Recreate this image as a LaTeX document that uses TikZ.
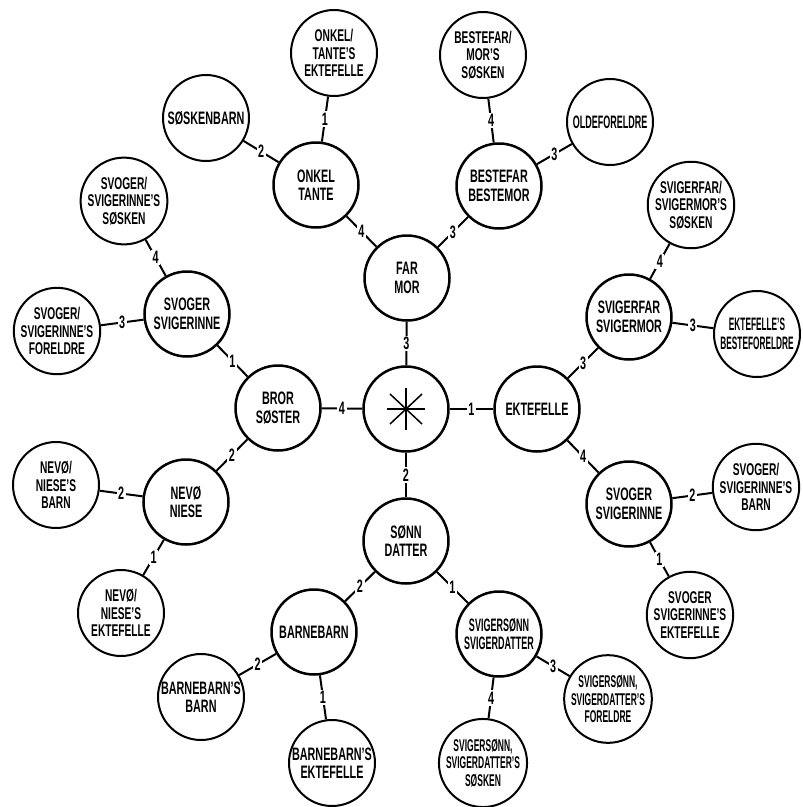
\documentclass[tikz,border=0pt]{standalone}
\usepackage{fontspec}
\setmainfont{Liberation Sans}
\newfontfamily\fa{Liberation Sans}[FakeStretch=0.6]
\newfontfamily\fb{Liberation Sans}[FakeStretch=0.5]
\newfontfamily\fc{Liberation Sans}[FakeStretch=0.46]
\tikzset{
  inner/.style={circle, draw, line width=2.5pt, minimum size=85pt, inner sep=0pt, align=center},
  outer/.style={circle, draw, line width=2pt, minimum size=86pt, inner sep=0pt, align=center},
  two/.style={font=\fa\bfseries\fontsize{18}{18.5}\selectfont},
  three/.style={font=\fa\bfseries\fontsize{17}{17.5}\selectfont},
  narrowtwo/.style={font=\fb\bfseries\fontsize{18}{18.5}\selectfont},
  narrowthree/.style={font=\fb\bfseries\fontsize{17}{17.5}\selectfont},
  narrowest/.style={font=\fc\bfseries\fontsize{18}{18.5}\selectfont},
  conn/.style={line width=2pt},
  lbl/.style={fill=white, inner sep=1.5pt, font=\fa\bfseries\fontsize{18}{18}\selectfont},
  star/.style={line width=1.5pt},
}
\begin{document}
\begin{tikzpicture}[x=1pt,y=-1pt]
\useasboundingbox (0,0) rectangle (803,807);
% centre and primary
\node[inner] (c) at (406,409) {};
\node[inner,two] (farmor) at (407,278) {FAR\\MOR};
\node[inner,two] (bror) at (278,408) {BROR\\SØSTER};
\node[inner,two] (ekt) at (537,409) {EKTEFELLE};
\node[inner,two] (sonn) at (406,541) {SØNN\\DATTER};
% secondary
\node[inner,two] (onkel) at (316,185) {ONKEL\\TANTE};
\node[inner,two] (bestefar) at (499,186) {BESTEFAR\\BESTEMOR};
\node[inner,two] (svigerfar) at (629,317) {SVIGERFAR\\SVIGERMOR};
\node[inner,two] (svogerR) at (629,504) {SVOGER\\SVIGERINNE};
\node[inner,two] (svogerL) at (187,314) {SVOGER\\SVIGERINNE};
\node[inner,two] (nevo) at (186,502) {NEVØ\\NIESE};
\node[inner,two] (barnebarn) at (314,632) {BARNEBARN};
\node[inner,narrowtwo] (svigersonn) at (499,634) {SVIGERSØNN\\SVIGERDATTER};
% tertiary
\node[outer,three] (onkelekt) at (334,53) {ONKEL/\\TANTE’S\\EKTEFELLE};
\node[outer,two] (soskenbarn) at (206,118) {SØSKENBARN};
\node[outer,three] (bfsosken) at (483,55) {BESTEFAR/\\MOR’S\\SØSKEN};
\node[outer,narrowtwo] (olde) at (610,122) {OLDEFORELDRE};
\node[outer,three] (sfsosken) at (691,205) {SVIGERFAR/\\SVIGERMOR’S\\SØSKEN};
\node[outer,narrowest] (ektbf) at (757,334) {EKTEFELLE’S\\BESTEFORELDRE};
\node[outer,three] (svRbarn) at (756,487) {SVOGER/\\SVIGERINNE’S\\BARN};
\node[outer,three] (svRekt) at (690,615) {SVOGER\\SVIGERINNE’S\\EKTEFELLE};
\node[outer,narrowthree] (ssforeldre) at (608,699) {SVIGERSØNN,\\SVIGERDATTER’S\\FORELDRE};
\node[outer,narrowthree] (sssosken) at (483,763) {SVIGERSØNN,\\SVIGERDATTER’S\\SØSKEN};
\node[outer,two] (bbekt) at (332,763) {BARNEBARN’S\\EKTEFELLE};
\node[outer,two] (bbbarn) at (201,697) {BARNEBARN’S\\BARN};
\node[outer,three] (nevoekt) at (121,613) {NEVØ/\\NIESE’S\\EKTEFELLE};
\node[outer,three] (nevobarn) at (56,485) {NEVØ/\\NIESE’S\\BARN};
\node[outer,three] (svLforeldre) at (57,331) {SVOGER/\\SVIGERINNE’S\\FORELDRE};
\node[outer,three] (svLsosken) at (124,201) {SVOGER/\\SVIGERINNE’S\\SØSKEN};
% star in centre
\draw[star] (c.center) +(0,-21) -- +(0,21);
\draw[star] (c.center) +(-19,0) -- +(19,0);
\draw[star] (c.center) +(-16,-15) -- +(16,15);
\draw[star] (c.center) +(-16,15) -- +(16,-15);
% connectors
\draw[conn] (c) -- node[lbl]{3} (farmor);
\draw[conn] (c) -- node[lbl]{2} (sonn);
\draw[conn] (c) -- node[lbl]{4} (bror);
\draw[conn] (c) -- node[lbl]{1} (ekt);
\draw[conn] (farmor) -- node[lbl]{4} (onkel);
\draw[conn] (farmor) -- node[lbl]{3} (bestefar);
\draw[conn] (onkel) -- node[lbl]{1} (onkelekt);
\draw[conn] (onkel) -- node[lbl]{2} (soskenbarn);
\draw[conn] (bestefar) -- node[lbl]{4} (bfsosken);
\draw[conn] (bestefar) -- node[lbl]{3} (olde);
\draw[conn] (ekt) -- node[lbl]{3} (svigerfar);
\draw[conn] (ekt) -- node[lbl]{4} (svogerR);
\draw[conn] (svigerfar) -- node[lbl]{4} (sfsosken);
\draw[conn] (svigerfar) -- node[lbl]{3} (ektbf);
\draw[conn] (svogerR) -- node[lbl]{2} (svRbarn);
\draw[conn] (svogerR) -- node[lbl]{1} (svRekt);
\draw[conn] (bror) -- node[lbl]{1} (svogerL);
\draw[conn] (bror) -- node[lbl]{2} (nevo);
\draw[conn] (svogerL) -- node[lbl]{4} (svLsosken);
\draw[conn] (svogerL) -- node[lbl]{3} (svLforeldre);
\draw[conn] (nevo) -- node[lbl]{2} (nevobarn);
\draw[conn] (nevo) -- node[lbl]{1} (nevoekt);
\draw[conn] (sonn) -- node[lbl]{2} (barnebarn);
\draw[conn] (sonn) -- node[lbl]{1} (svigersonn);
\draw[conn] (barnebarn) -- node[lbl]{2} (bbbarn);
\draw[conn] (barnebarn) -- node[lbl]{1} (bbekt);
\draw[conn] (svigersonn) -- node[lbl]{3} (ssforeldre);
\draw[conn] (svigersonn) -- node[lbl]{4} (sssosken);
\end{tikzpicture}
\end{document}
